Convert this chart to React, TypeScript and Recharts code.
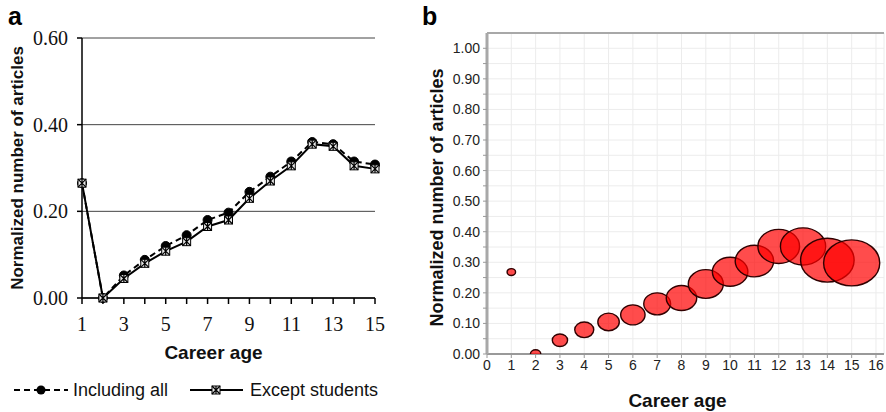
import React from 'react';
import {
  LineChart,
  Line,
  XAxis,
  YAxis,
  CartesianGrid,
  Legend,
  ScatterChart,
  Scatter,
  ZAxis,
  ReferenceLine,
} from 'recharts';

// ---------- data ----------
const careerAges = [1, 2, 3, 4, 5, 6, 7, 8, 9, 10, 11, 12, 13, 14, 15];
const includingAll = [0.265, 0.0, 0.052, 0.088, 0.12, 0.145, 0.18, 0.197, 0.245, 0.28, 0.315, 0.36, 0.355, 0.315, 0.308];
const exceptStudents = [0.265, 0.0, 0.045, 0.08, 0.108, 0.13, 0.165, 0.18, 0.23, 0.27, 0.305, 0.355, 0.35, 0.305, 0.298];

const bubbleValues = [0.268, 0.0, 0.045, 0.079, 0.105, 0.128, 0.164, 0.183, 0.229, 0.269, 0.304, 0.352, 0.352, 0.307, 0.298];
const bubbleSizes = [2.3, 3.4, 7.4, 11.5, 14.6, 18.9, 22.9, 29.5, 39, 40, 47, 55, 65, 91, 100];

const aXTicks = [1, 2, 3, 4, 5, 6, 7, 8, 9, 10, 11, 12, 13, 14, 15];
const aYTicks = [0, 0.2, 0.4, 0.6];
const bXTicks = [0, 1, 2, 3, 4, 5, 6, 7, 8, 9, 10, 11, 12, 13, 14, 15, 16];
const bYTicks = [0, 0.05, 0.1, 0.15, 0.2, 0.25, 0.3, 0.35, 0.4, 0.45, 0.5, 0.55, 0.6, 0.65, 0.7, 0.75, 0.8, 0.85, 0.9, 0.95, 1.0];

const lineData = careerAges.map((age, i) => ({
  age,
  all: includingAll[i],
  except: exceptStudents[i],
}));

const bubbleData = careerAges.map((age, i) => ({
  age,
  value: bubbleValues[i],
  z: bubbleSizes[i],
}));

const SANS = 'Arial, "Liberation Sans", Helvetica, sans-serif';
const SERIF = '"Times New Roman", "Liberation Serif", Times, serif';

// ---------- markers ----------
const CircleDot = (props: any) => {
  const { cx, cy } = props;
  if (cx == null || cy == null) return null;
  return <circle cx={cx} cy={cy} r={4.5} fill="#000" stroke="#000" />;
};

const StarBox = ({ cx, cy }: { cx: number; cy: number }) => (
  <g>
    <rect x={cx - 4} y={cy - 4} width={8} height={8} fill="#e8e8e8" stroke="#000" strokeWidth={1} />
    <path
      d={`M${cx - 4},${cy - 4}L${cx + 4},${cy + 4}M${cx + 4},${cy - 4}L${cx - 4},${cy + 4}M${cx},${cy - 4}L${cx},${cy + 4}`}
      stroke="#000"
      strokeWidth={1.2}
    />
  </g>
);

const StarDot = (props: any) => {
  const { cx, cy } = props;
  if (cx == null || cy == null) return null;
  return <StarBox cx={cx} cy={cy} />;
};

const LegendA = () => (
  <div style={{ position: 'relative', height: 24, width: 400, fontFamily: SANS, fontSize: 18, color: '#111' }}>
    <svg width={400} height={24} style={{ position: 'absolute', left: 0, top: 0 }}>
      <line x1={14} y1={12} x2={68} y2={12} stroke="#000" strokeWidth={2} strokeDasharray="6 4" />
      <circle cx={41} cy={12} r={4.5} fill="#000" />
      <line x1={190} y1={12} x2={243} y2={12} stroke="#000" strokeWidth={2} />
      <StarBox cx={216} cy={12} />
      <text x={73} y={18} fontFamily={SANS} fontSize={18} fill="#111">Including all</text>
      <text x={250} y={18} fontFamily={SANS} fontSize={18} fill="#111">Except students</text>
    </svg>
  </div>
);

const XLabelA = (props: any) => {
  const vb = props.viewBox || {};
  return (
    <text x={vb.x + vb.width / 2 - 15} y={vb.y + 61} textAnchor="middle" fontFamily={SANS} fontSize={19} fontWeight="bold" fill="#111">
      Career age
    </text>
  );
};

const YLabelA = (props: any) => {
  const vb = props.viewBox || {};
  const cy = vb.y + vb.height / 2;
  return (
    <text x={17} y={cy} transform={`rotate(-90, 17, ${cy})`} textAnchor="middle" dominantBaseline="central" fontFamily={SANS} fontSize={17} fontWeight="bold" fill="#111">
      Normalized number of articles
    </text>
  );
};

const XLabelB = (props: any) => {
  const vb = props.viewBox || {};
  return (
    <text x={vb.x + vb.width / 2 - 8} y={vb.y + 53} textAnchor="middle" fontFamily={SANS} fontSize={19} fontWeight="bold" fill="#111">
      Career age
    </text>
  );
};

const YLabelB = (props: any) => {
  const vb = props.viewBox || {};
  const cy = vb.y + vb.height / 2 + 4;
  return (
    <text x={37} y={cy} transform={`rotate(-90, 37, ${cy})`} textAnchor="middle" dominantBaseline="central" fontFamily={SANS} fontSize={18} fontWeight="bold" fill="#111">
      Normalized number of articles
    </text>
  );
};

const Ellipse = (props: any) => {
  const { cx, cy } = props;
  if (cx == null || cy == null) return null;
  const r = props.width != null ? props.width / 2 : Math.sqrt(Math.max(props.size || 0, 0) / Math.PI);
  return (
    <ellipse cx={cx} cy={cy} rx={r * 1.22} ry={r} fill="#ff0000" fillOpacity={0.7} stroke="#300000" strokeWidth={1.4} />
  );
};

export default function App() {
  return (
    <div style={{ position: 'absolute', left: 0, top: 0, width: 886, height: 412, background: '#fff', overflow: 'hidden' }}>
      <div style={{ position: 'absolute', left: 8, top: 2, fontFamily: SANS, fontWeight: 'bold', fontSize: 25, color: '#000' }}>a</div>
      <div style={{ position: 'absolute', left: 422, top: 2, fontFamily: SANS, fontWeight: 'bold', fontSize: 25, color: '#000' }}>b</div>

      <div style={{ position: 'absolute', left: 0, top: 0 }}>
        <LineChart width={400} height={412} data={lineData} margin={{ top: 38, right: 25, left: 0, bottom: 10 }}>
          <CartesianGrid vertical={false} stroke="#444" strokeWidth={1} />
          <XAxis
            dataKey="age"
            type="number"
            domain={[1, 15]}
            ticks={aXTicks}
            interval={0}
            height={80}
            tickSize={6}
            tickMargin={13}
            axisLine={{ stroke: '#000', strokeWidth: 1.5 }}
            tickLine={{ stroke: '#000', strokeWidth: 1.5 }}
            tick={{ fontFamily: SERIF, fontSize: 20, fill: '#111' }}
            tickFormatter={(v: number) => (v % 2 === 1 ? String(v) : '')}
            label={<XLabelA />}
          />
          <YAxis
            type="number"
            domain={[0, 0.6]}
            ticks={aYTicks}
            width={82}
            tickSize={5}
            tickMargin={9}
            axisLine={{ stroke: '#000', strokeWidth: 1.5 }}
            tickLine={{ stroke: '#000', strokeWidth: 1.5 }}
            tick={{ fontFamily: SERIF, fontSize: 20, fill: '#111' }}
            tickFormatter={(v: number) => v.toFixed(2)}
            label={<YLabelA />}
          />
          <Legend verticalAlign="bottom" height={24} content={<LegendA />} wrapperStyle={{ left: 0, width: 400 }} />
          <Line
            dataKey="all"
            name="Including all"
            stroke="#000"
            strokeWidth={2}
            strokeDasharray="6 4"
            dot={<CircleDot />}
            isAnimationActive={false}
          />
          <Line
            dataKey="except"
            name="Except students"
            stroke="#000"
            strokeWidth={2}
            dot={<StarDot />}
            isAnimationActive={false}
          />
        </LineChart>
      </div>

      <div style={{ position: 'absolute', left: 400, top: 0 }}>
        <ScatterChart width={486} height={412} margin={{ top: 33, right: 2, left: 0, bottom: 0 }}>
          <CartesianGrid stroke="#ececec" strokeWidth={1} />
          <XAxis
            dataKey="age"
            type="number"
            domain={[0, 16.33]}
            ticks={bXTicks}
            interval={0}
            allowDataOverflow
            height={58}
            tickSize={4}
            tickMargin={2}
            axisLine={{ stroke: '#999', strokeWidth: 2 }}
            tickLine={{ stroke: '#999' }}
            tick={{ fontFamily: SANS, fontSize: 14, fill: '#222' }}
            label={<XLabelB />}
          />
          <YAxis
            dataKey="value"
            type="number"
            domain={[0, 1.05]}
            ticks={bYTicks}
            interval={0}
            allowDataOverflow
            width={87}
            tickSize={4}
            tickMargin={3}
            axisLine={{ stroke: '#a8a8a8', strokeWidth: 3 }}
            tickLine={{ stroke: '#999' }}
            tick={{ fontFamily: SANS, fontSize: 14, fill: '#222' }}
            tickFormatter={(v: number) => (Math.round(v * 100) % 10 === 0 ? v.toFixed(2) : '')}
            label={<YLabelB />}
          />
          <ZAxis dataKey="z" type="number" domain={[0, 100]} range={[0, Math.PI * 23 * 23]} />
          <ReferenceLine y={1.05} stroke="#a8a8a8" strokeWidth={2} />
          <Scatter data={bubbleData} shape={<Ellipse />} isAnimationActive={false} />
        </ScatterChart>
      </div>
    </div>
  );
}
